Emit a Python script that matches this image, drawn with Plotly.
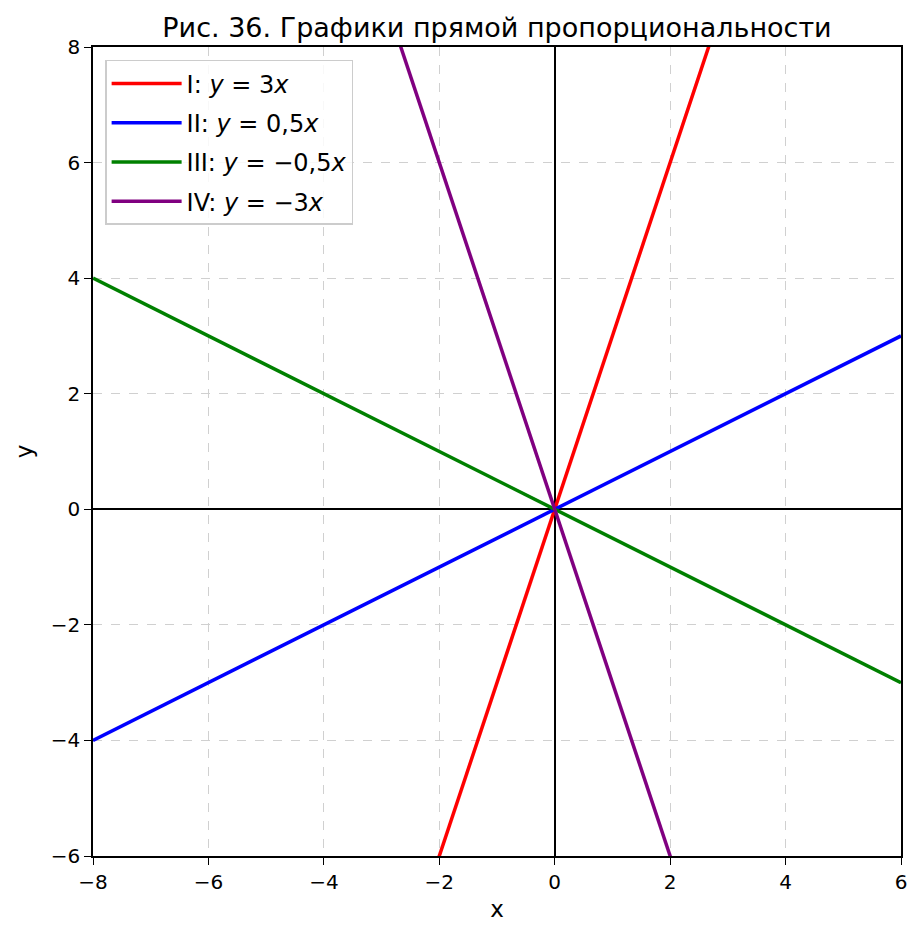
import plotly.graph_objects as go

x_vals = [-8, 6]
y_I = [-24, 18]
y_II = [-4, 3]
y_III = [4, -3]
y_IV = [24, -18]

names = [
    "I: <i>y</i> = 3<i>x</i>",
    "II: <i>y</i> = 0,5<i>x</i>",
    "III: <i>y</i> = −0,5<i>x</i>",
    "IV: <i>y</i> = −3<i>x</i>",
]
series = [y_I, y_II, y_III, y_IV]
colors = ["#ff0000", "#0000ff", "#008000", "#800080"]

x_ticks = [-8, -6, -4, -2, 0, 2, 4, 6]
y_ticks = [-6, -4, -2, 0, 2, 4, 6, 8]

FONT = "DejaVu Sans"

fig = go.Figure()
for i, (nm, ys, c) in enumerate(zip(names, series, colors)):
    fig.add_trace(go.Scatter(x=x_vals, y=ys, mode="lines", name=nm,
                             legendgroup=f"g{i}",
                             line=dict(color=c, width=3.5)))

axis_common = dict(
    showline=True, mirror=True, linecolor="black", linewidth=1.5,
    ticks="outside", ticklen=7, tickwidth=1.3, tickcolor="black",
    showgrid=True, gridcolor="#d0d0d0", griddash="dash", gridwidth=1,
    zeroline=True, zerolinecolor="black", zerolinewidth=1.5,
    tickfont=dict(family=FONT, size=20, color="black"),
)

fig.update_layout(
    width=914, height=930,
    margin=dict(l=85, r=21, t=39, b=82),
    paper_bgcolor="white", plot_bgcolor="white",
    font=dict(family=FONT, color="black"),
    title=dict(text="Рис. 36. Графики прямой пропорциональности",
               x=0.5, xref="paper", xanchor="center",
               y=1, yref="paper", yanchor="bottom", pad=dict(b=10),
               font=dict(family=FONT, size=27, color="black")),
    xaxis=dict(range=[-8, 6], tickvals=x_ticks,
               title=dict(text="x", font=dict(family=FONT, size=23), standoff=8),
               **axis_common),
    yaxis=dict(range=[-6, 8], tickvals=y_ticks,
               title=dict(text="y", font=dict(family=FONT, size=23), standoff=12),
               **axis_common),
    legend=dict(x=0.015, y=0.984, xanchor="left", yanchor="top",
                bgcolor="rgba(255,255,255,0.85)", bordercolor="#cccccc",
                borderwidth=1.5, font=dict(family=FONT, size=24, color="black"),
                tracegroupgap=5, itemwidth=70),
    showlegend=True,
)

fig.write_html("out.html")
